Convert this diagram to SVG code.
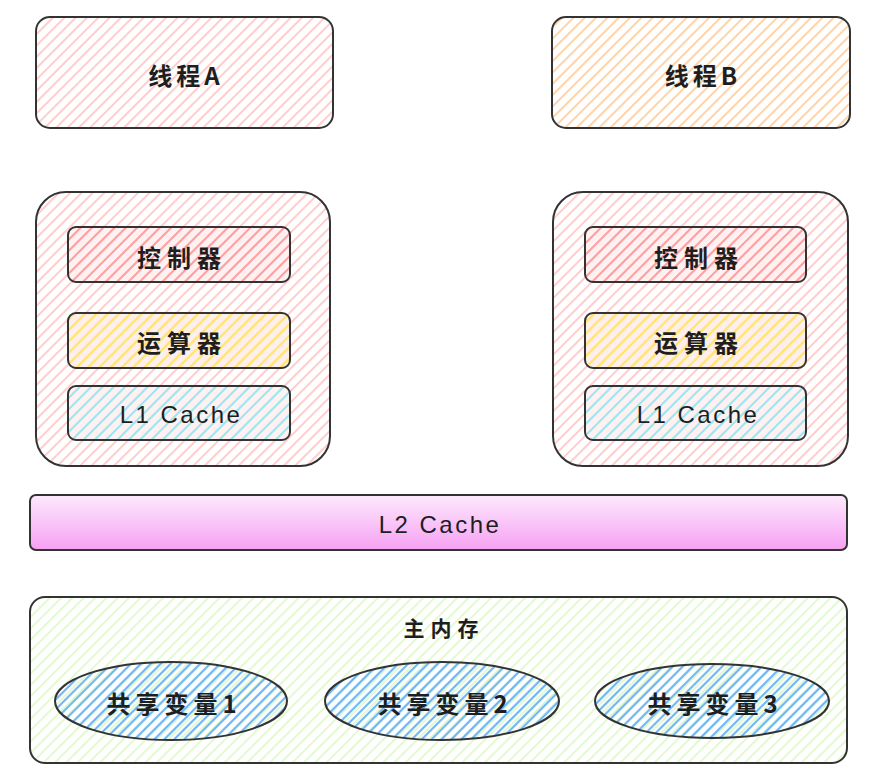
<svg xmlns="http://www.w3.org/2000/svg" width="878" height="782" viewBox="0 0 878 782">
<defs>
  <pattern id="hPink" width="8" height="8" patternUnits="userSpaceOnUse" patternTransform="rotate(45)">
    <line x1="2" y1="0" x2="2" y2="8" stroke="#ffc4c4" stroke-width="1.7"/>
  </pattern>
  <pattern id="hOrange" width="8" height="8" patternUnits="userSpaceOnUse" patternTransform="rotate(45)">
    <line x1="2" y1="0" x2="2" y2="8" stroke="#ffcf9e" stroke-width="1.8"/>
  </pattern>
  <pattern id="hRed" width="8" height="8" patternUnits="userSpaceOnUse" patternTransform="rotate(45)">
    <rect width="8" height="8" fill="#ffe3e3" opacity="0.5"/>
    <line x1="2" y1="0" x2="2" y2="8" stroke="#ff9f9f" stroke-width="2"/>
  </pattern>
  <pattern id="hYellow" width="8" height="8" patternUnits="userSpaceOnUse" patternTransform="rotate(45)">
    <rect width="8" height="8" fill="#ffe3e3" opacity="0.6"/>
    <line x1="2" y1="0" x2="2" y2="8" stroke="#ffe866" stroke-width="2.2"/>
  </pattern>
  <pattern id="hCyan" width="8" height="8" patternUnits="userSpaceOnUse" patternTransform="rotate(45)">
    <rect width="8" height="8" fill="#ffe3e3" opacity="0.5"/>
    <line x1="2" y1="0" x2="2" y2="8" stroke="#99e9f2" stroke-width="2"/>
  </pattern>
  <pattern id="hGreen" width="8" height="8" patternUnits="userSpaceOnUse" patternTransform="rotate(45)">
    <line x1="2" y1="0" x2="2" y2="8" stroke="#def8c8" stroke-width="1.7"/>
  </pattern>
  <pattern id="hBlue" width="7" height="7" patternUnits="userSpaceOnUse" patternTransform="rotate(45)">
    <line x1="2" y1="0" x2="2" y2="7" stroke="#6fb6f7" stroke-width="2.2"/>
  </pattern>
  <linearGradient id="gL2" x1="0" y1="0" x2="0" y2="1">
    <stop offset="0" stop-color="#fdeafd"/>
    <stop offset="1" stop-color="#f6a0f3"/>
  </linearGradient>
</defs>
<style>
  .box { stroke: #333; stroke-width: 2; }
  .txt { font-family: "Noto Sans CJK SC", "Liberation Sans", sans-serif; font-size: 24px; font-weight: 700; fill: #1e1e1e; text-anchor: middle; dominant-baseline: central; }
  .cn { letter-spacing: 6px; }
  .en { font-family: "Liberation Sans", "Noto Sans CJK SC", sans-serif; font-weight: 400; letter-spacing: 2.5px; }
</style>
<rect width="878" height="782" fill="#ffffff"/>

<g id="threadA">
  <rect class="box" x="36" y="17" width="297" height="111" rx="14" fill="url(#hPink)"/>
  <text class="txt" x="186" y="74" letter-spacing="4">线程A</text>
</g>
<g id="threadB">
  <rect class="box" x="552" y="17" width="298" height="111" rx="14" fill="url(#hOrange)"/>
  <text class="txt" x="703" y="74" letter-spacing="4">线程B</text>
</g>

<g id="coreA">
  <rect class="box" x="36" y="192" width="294" height="274" rx="30" fill="url(#hPink)"/>
</g>
<g id="ctrlA">
  <rect class="box" x="68" y="227" width="222" height="55" rx="8" fill="url(#hRed)"/>
  <text class="txt cn" x="182" y="256">控制器</text>
</g>
<g id="aluA">
  <rect class="box" x="68" y="313" width="222" height="55" rx="8" fill="url(#hYellow)"/>
  <text class="txt cn" x="182" y="341">运算器</text>
</g>
<g id="l1A">
  <rect class="box" x="68" y="386" width="222" height="54" rx="8" fill="url(#hCyan)"/>
  <text class="txt en" x="181" y="414">L1 Cache</text>
</g>

<g id="coreB">
  <rect class="box" x="553" y="192" width="295" height="274" rx="30" fill="url(#hPink)"/>
</g>
<g id="ctrlB">
  <rect class="box" x="585" y="227" width="221" height="55" rx="8" fill="url(#hRed)"/>
  <text class="txt cn" x="699" y="256">控制器</text>
</g>
<g id="aluB">
  <rect class="box" x="585" y="313" width="221" height="55" rx="8" fill="url(#hYellow)"/>
  <text class="txt cn" x="699" y="341">运算器</text>
</g>
<g id="l1B">
  <rect class="box" x="585" y="386" width="221" height="54" rx="8" fill="url(#hCyan)"/>
  <text class="txt en" x="698" y="414">L1 Cache</text>
</g>

<g id="l2">
  <rect class="box" x="30" y="495" width="817" height="55" rx="6" fill="url(#gL2)"/>
  <text class="txt en" x="440" y="524">L2 Cache</text>
</g>

<g id="mainMemory">
  <rect class="box" x="30" y="597" width="817" height="166" rx="15" fill="url(#hGreen)"/>
  <text class="txt cn" x="444" y="627" style="font-size:21px">主内存</text>
</g>
<g id="var1">
  <ellipse class="box" cx="171" cy="701" rx="116" ry="39" fill="url(#hBlue)"/>
  <text class="txt" x="174" y="702" letter-spacing="5">共享变量1</text>
</g>
<g id="var2">
  <ellipse class="box" cx="442" cy="701" rx="117" ry="39" fill="url(#hBlue)"/>
  <text class="txt" x="445" y="702" letter-spacing="5">共享变量2</text>
</g>
<g id="var3">
  <ellipse class="box" cx="712" cy="701" rx="117" ry="37" fill="url(#hBlue)"/>
  <text class="txt" x="715" y="702" letter-spacing="5">共享变量3</text>
</g>

<g id="connectors"></g>
</svg>
